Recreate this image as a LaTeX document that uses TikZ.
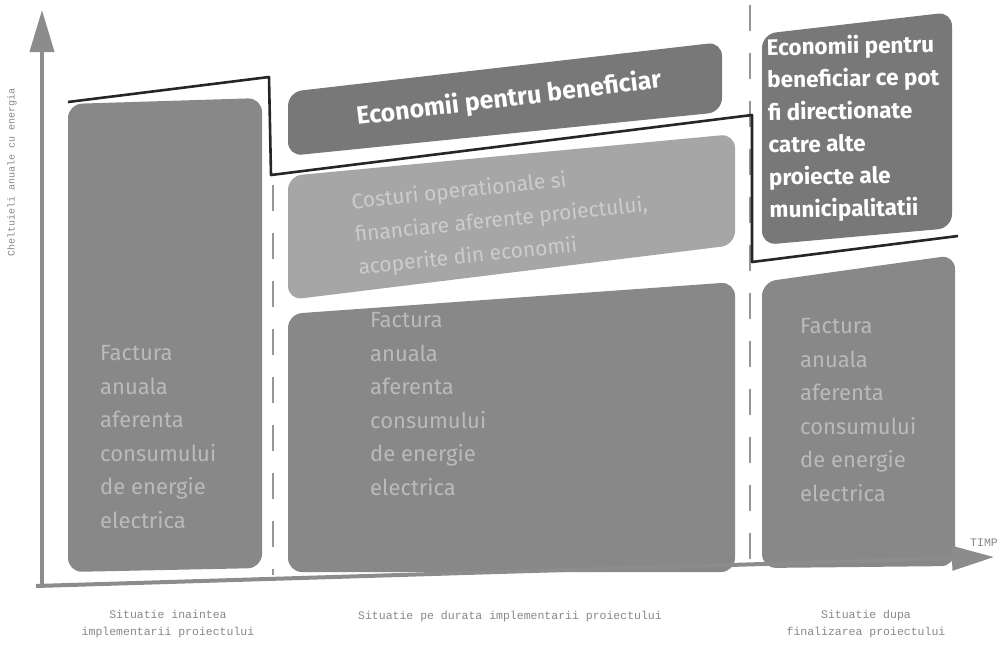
\documentclass[tikz,border=0pt]{standalone}
\usepackage{fontspec}
\setmainfont{Fira Sans}
\setmonofont{Liberation Mono}
\usetikzlibrary{arrows.meta}
\definecolor{boxmid}{RGB}{136,136,136}
\definecolor{boxdark}{RGB}{120,120,120}
\definecolor{boxlight}{RGB}{166,166,166}
\definecolor{txtfaint}{RGB}{186,186,186}
\definecolor{txtlight}{RGB}{204,204,204}
\definecolor{axisgray}{RGB}{140,140,140}
\definecolor{sepgray}{RGB}{150,150,150}
\definecolor{lblgray}{RGB}{135,135,135}
\tikzset{
  boxshape/.style={rounded corners=14pt},
  facttext/.style={text=txtfaint, align=left, font=\fontsize{22}{33.5}\selectfont, inner sep=0pt},
  whitetext/.style={text=white, align=left, inner sep=0pt},
  axisline/.style={draw=axisgray, line width=4pt, -{Triangle[length=42pt,width=24pt]}},
  sepline/.style={draw=sepgray, line width=2pt, dash pattern=on 26pt off 22pt},
  stepline/.style={draw=black!85, line width=2.6pt, line join=round},
  lbl/.style={text=lblgray, font=\ttfamily\fontsize{11.5}{17}\selectfont, align=center, inner sep=0pt}
}
\begin{document}
\begin{tikzpicture}[x=1pt,y=-1pt]
\useasboundingbox (0,0) rectangle (1002,646);
% separators
\draw[sepline] (273,185) -- (273,575);
\draw[sepline] (750,5) -- (750,565);
% boxes
\fill[boxmid, boxshape] (68,104) -- (262,98) -- (262,568) -- (68,572) -- cycle;
\fill[boxdark, boxshape] (288,92) -- (722,42) -- (722,112) -- (288,156) -- cycle;
\fill[boxlight, boxshape] (288,176) -- (735,134) -- (735,245) -- (288,300) -- cycle;
\fill[boxmid, boxshape] (288,314) -- (735,282) -- (735,572) -- (288,572) -- cycle;
\fill[boxdark, boxshape] (762,34) -- (952,12) -- (952,228) -- (762,245) -- cycle;
\fill[boxmid, boxshape] (762,282) -- (955,255) -- (955,566) -- (762,568) -- cycle;
% step line
\coordinate (s1) at (68,102);
\coordinate (s2) at (269,77);
\coordinate (s3) at (271,175);
\coordinate (s4) at (752,115);
\coordinate (s5) at (752,262);
\coordinate (s6) at (958,236);
\draw[stepline] (s1) -- (s2) -- (s3) -- (s4) -- (s5) -- (s6);
% texts
\node[facttext, anchor=west] (fa) at (100,437) {Factura\\anuala\\aferenta\\consumului\\de energie\\electrica};
\node[facttext, anchor=west] (fb) at (370,404) {Factura\\anuala\\aferenta\\consumului\\de energie\\electrica};
\node[facttext, anchor=west] (fc) at (800,410) {Factura\\anuala\\aferenta\\consumului\\de energie\\electrica};
\node[whitetext, font=\bfseries\fontsize{25}{30}\selectfont, rotate=7] (eb) at (509,99) {Economii pentru beneficiar};
\node[text=txtlight, align=left, font=\fontsize{21}{33}\selectfont, inner sep=0pt, rotate=6, anchor=west] (co) at (355,236)
  {Costuri operationale si\\financiare aferente proiectului,\\acoperite din economii};
\node[whitetext, font=\bfseries\fontsize{22.5}{32.5}\selectfont, rotate=1, anchor=west] (ec) at (768,130) {Economii pentru\\beneficiar ce pot\\fi directionate\\catre alte\\proiecte ale\\municipalitatii};
% axes
\coordinate (O) at (42,588);
\coordinate (yt) at (42,10);
\coordinate (xo) at (36,586);
\coordinate (xt) at (994,557);
\draw[axisline] (O) -- (yt);
\draw[axisline] (xo) -- (xt);
% axis labels
\node[lbl, rotate=90, font=\ttfamily\fontsize{10}{12}\selectfont] (yl) at (12,172) {Cheltuieli anuale cu energia};
\node[lbl] (tl) at (984,543) {TIMP};
\node[lbl] (l1) at (168,624) {Situatie inaintea\\implementarii proiectului};
\node[lbl] (l2) at (510,617) {Situatie pe durata implementarii proiectului};
\node[lbl] (l3) at (866,624) {Situatie dupa\\finalizarea proiectului};
\end{tikzpicture}
\end{document}
